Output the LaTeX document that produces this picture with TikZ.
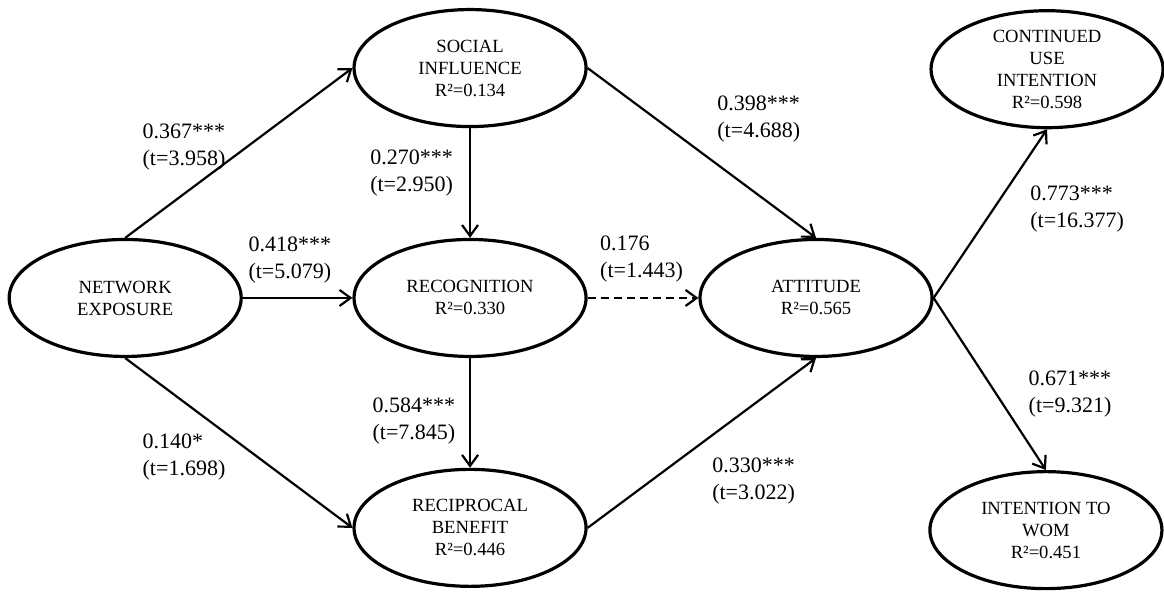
\documentclass[tikz,border=0pt]{standalone}
\usepackage{fontspec}
\setmainfont{Liberation Serif}
\usetikzlibrary{shapes.geometric,arrows.meta}

\begin{document}
\begin{tikzpicture}[
  latent/.style={ellipse, draw, line width=1.6pt, minimum width=116pt, minimum height=58.5pt,
    inner sep=0pt, align=center, font=\fontsize{9.3}{11}\selectfont},
  link/.style={line width=1.1pt, -{Straight Barb[length=5.5pt,width=8pt]}},
  coef/.style={anchor=west, align=left, inner sep=0pt, font=\fontsize{11}{13.5}\selectfont}]
  \useasboundingbox (0,0) rectangle (20.455,10.386);
  % constructs
  \node[latent] (net) at (2.20, 5.15) {NETWORK\\EXPOSURE};
  \node[latent] (soc) at (8.26, 9.19) {SOCIAL\\INFLUENCE\\R²=0.134};
  \node[latent] (rec) at (8.26, 5.15) {RECOGNITION\\R²=0.330};
  \node[latent] (rcb) at (8.26, 1.11) {RECIPROCAL\\BENEFIT\\R²=0.446};
  \node[latent] (att) at (14.34, 5.15) {ATTITUDE\\R²=0.565};
  \node[latent] (cui) at (18.40, 9.17) {CONTINUED\\USE\\INTENTION\\R²=0.598};
  \node[latent] (wom) at (18.38, 1.07) {INTENTION TO\\WOM\\R²=0.451};
  % paths
  \draw[link] (net.north) -- (soc.west);
  \draw[link] (net.east) -- (rec.west);
  \draw[link] (net.south) -- (rcb.west);
  \draw[link] (soc.south) -- (rec.north);
  \draw[link] (rec.south) -- (rcb.north);
  \draw[link] (soc.east) -- (att.north);
  \draw[link, dash pattern=on 4pt off 2.5pt] (rec.east) -- (att.west);
  \draw[link] (rcb.east) -- (att.south);
  \draw[link] (att.east) -- (cui.south);
  \draw[link] (att.east) -- (wom.north);
  % coefficients
  \node[coef] (c1) at (2.50, 7.80) {0.367***\\(t=3.958)};
  \node[coef] (c2) at (6.50, 7.34) {0.270***\\(t=2.950)};
  \node[coef] (c3) at (12.60, 8.30) {0.398***\\(t=4.688)};
  \node[coef] (c4) at (4.36, 5.82) {0.418***\\(t=5.079)};
  \node[coef] (c5) at (10.54, 5.83) {0.176\\(t=1.443)};
  \node[coef] (c6) at (6.54, 2.98) {0.584***\\(t=7.845)};
  \node[coef] (c7) at (2.50, 2.36) {0.140*\\(t=1.698)};
  \node[coef] (c8) at (12.51, 1.94) {0.330***\\(t=3.022)};
  \node[coef] (c9) at (18.10, 6.72) {0.773***\\(t=16.377)};
  \node[coef] (c10) at (18.07, 3.47) {0.671***\\(t=9.321)};
\end{tikzpicture}
\end{document}
